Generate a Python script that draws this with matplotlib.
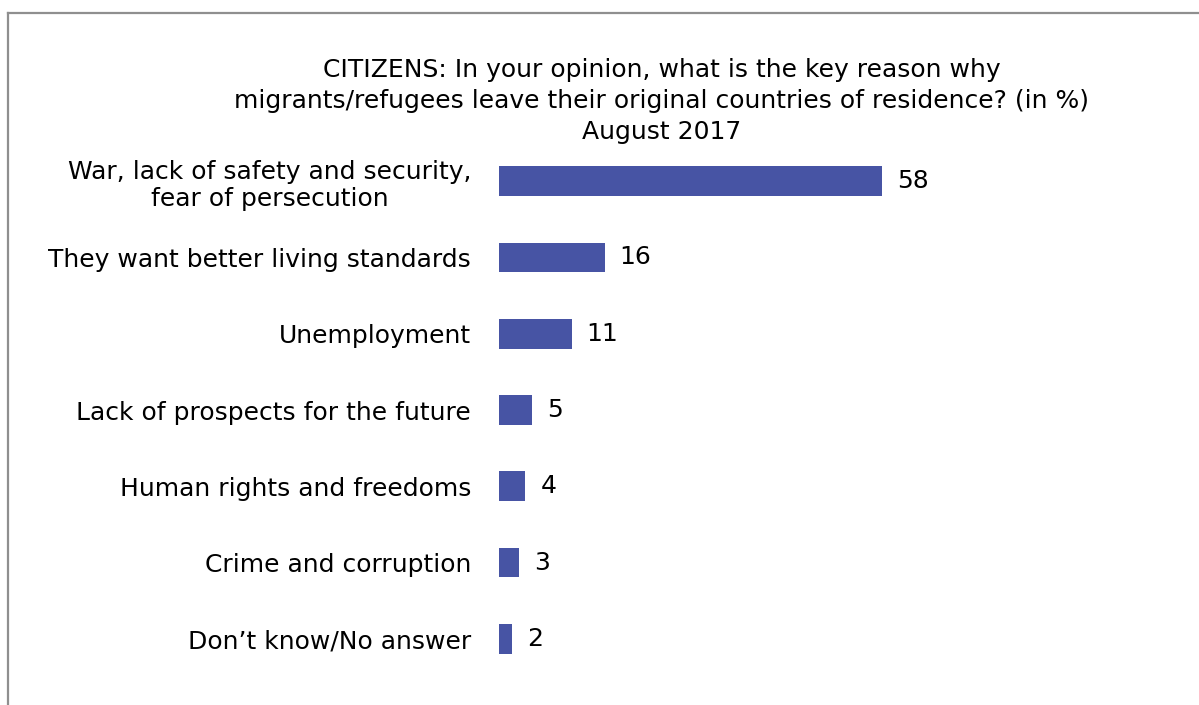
import matplotlib
matplotlib.use("Agg")
import matplotlib.pyplot as plt
from matplotlib.lines import Line2D

# Survey data
categories = [
    "War, lack of safety and security,\nfear of persecution",
    "They want better living standards",
    "Unemployment",
    "Lack of prospects for the future",
    "Human rights and freedoms",
    "Crime and corruption",
    "Don\u2019t know/No answer",
]
values = [58, 16, 11, 5, 4, 3, 2]
title_lines = [
    "CITIZENS: In your opinion, what is the key reason why",
    "migrants/refugees leave their original countries of residence? (in %)",
    "August 2017",
]

W, H = 1199, 705
plt.rcParams["font.family"] = ["DejaVu Sans"]
FS = 18
BAR_COLOR = "#4754A4"

fig = plt.figure(figsize=(W / 100, H / 100), dpi=100)
fig.patch.set_facecolor("white")

# Axes placed in pixel terms
ax_left, ax_right = 499, 1159
ax_top, ax_bottom = 143, 677
ax = fig.add_axes([ax_left / W, 1 - ax_bottom / H,
                   (ax_right - ax_left) / W, (ax_bottom - ax_top) / H])

ypos = list(range(len(categories)))
ax.barh(ypos, values, height=0.39, color=BAR_COLOR, edgecolor="none")
ax.set_xlim(0, 100)
ax.set_ylim(len(categories) - 0.5, -0.5)

for y, v in zip(ypos, values):
    ax.annotate(f"{v}", xy=(v, y), xytext=(15, 0), textcoords="offset pixels",
                ha="left", va="center", fontsize=FS, color="black")

ax.set_yticks(ypos)
ax.set_yticklabels(categories, fontsize=FS, multialignment="center",
                   linespacing=1.18)
ax.tick_params(axis="y", length=0, pad=20)
ax.set_xticks([])
for s in ax.spines.values():
    s.set_visible(False)

# Title
title_y = [70, 101, 132]
for line, ty in zip(title_lines, title_y):
    fig.text(662 / W, 1 - ty / H, line, ha="center", va="center",
             fontsize=FS, color="black")

# Frame lines (left and top)
frame_color = "#8f8f8f"
fig.add_artist(Line2D([7.5 / W, 7.5 / W], [0, 1 - 12.5 / H],
                      transform=fig.transFigure, color=frame_color, lw=1.6))
fig.add_artist(Line2D([7.5 / W, 1], [1 - 12.5 / H, 1 - 12.5 / H],
                      transform=fig.transFigure, color=frame_color, lw=1.6))

fig.savefig("out.png", dpi=100, facecolor="white")
